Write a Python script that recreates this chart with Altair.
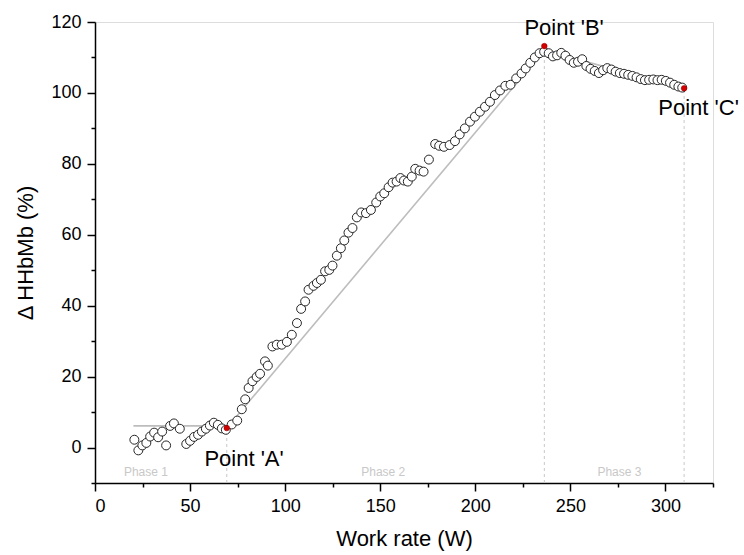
import altair as alt
import pandas as pd

FONT = "Liberation Sans"

w_phase1 = [20.7, 22.8, 24.9, 27.0, 29.0, 31.1, 33.2, 35.3, 37.4, 39.5, 41.5, 44.6,
            48.0, 50.0, 52.1, 54.2, 56.2, 58.3, 60.4, 62.5, 64.6, 66.7, 68.8]
y_phase1 = [2.2, -0.8, 0.6, 1.3, 3.1, 4.2, 2.9, 4.5, 0.6, 6.1, 6.8, 5.3,
            1.0, 1.9, 3.0, 3.6, 4.5, 5.3, 6.2, 7.0, 6.4, 5.4, 5.0]

w_phase2 = [71.9, 74.8, 77.2, 79.0, 80.8, 82.8, 85.0, 86.8, 89.4, 90.9, 93.3, 95.6,
            98.2, 100.9, 103.5, 106.2, 108.4, 110.5, 112.3, 114.9, 116.7, 118.8, 121.0,
            123.2, 124.9, 127.2, 129.3, 131.1, 133.3, 135.4, 137.7, 140.0, 142.5, 145.1,
            147.9, 150.0, 152.1, 154.4, 156.5, 158.6, 160.6, 162.5, 164.5, 166.6, 168.4,
            170.7, 172.8, 175.6, 178.9, 181.0, 183.5, 186.5, 189.3, 191.8, 194.5, 197.2,
            199.8, 202.4, 205.1, 207.7, 210.3, 213.0, 215.8, 218.5, 221.5, 224.3, 226.5,
            228.9, 231.3, 233.8, 236.2]
y_phase2 = [6.5, 7.6, 10.8, 13.6, 16.8, 18.7, 19.9, 20.8, 24.3, 23.1, 28.5, 29.0,
            29.0, 29.8, 31.8, 35.1, 39.1, 41.2, 44.5, 45.6, 46.4, 47.3, 49.7,
            50.1, 51.3, 54.1, 56.2, 58.4, 60.6, 61.9, 64.9, 66.3, 66.1, 67.0,
            69.1, 70.8, 71.7, 73.4, 74.7, 75.0, 76.0, 75.3, 75.0, 76.4, 78.6,
            78.1, 77.8, 81.2, 85.6, 85.1, 84.8, 85.3, 86.4, 88.3, 90.0, 91.9,
            93.3, 94.7, 96.1, 97.5, 99.4, 100.7, 102.0, 102.3, 104.1, 105.5, 106.9,
            108.5, 110.0, 111.2, 111.6]

w_phase3 = [238.6, 240.8, 243.0, 245.2, 247.4, 249.6, 251.8, 254.0, 256.2, 258.4, 260.6,
            262.8, 265.0, 267.2, 269.4, 271.6, 273.8, 276.0, 278.2, 280.4, 282.6, 284.8,
            287.0, 289.2, 291.4, 293.6, 295.8, 298.0, 300.2, 302.4, 304.6, 306.8, 308.8]
y_phase3 = [111.2, 110.3, 110.6, 111.3, 110.5, 109.3, 108.5, 108.8, 109.5, 107.6, 106.8,
            106.2, 105.6, 106.4, 107.0, 106.6, 106.0, 105.6, 105.4, 105.1, 104.8, 104.4,
            103.9, 103.6, 103.7, 103.8, 103.6, 103.7, 103.4, 102.9, 102.3, 101.8, 101.5]

# breakpoints
key_w = [69.3, 236.3, 309.8]
key_y = [5.5, 113.2, 101.3]
key_text = ["Point 'A'", "Point 'B'", "Point 'C'"]
key_text_w = [78.4, 246.7, 317.4]
key_text_y = [-5.3, 116.3, 93.8]

# fitted regression segments
fit_w1 = [20.2, 69.3, 236.3]
fit_y1 = [6.1, 5.5, 112.0]
fit_w2 = [69.3, 236.3, 309.8]
fit_y2 = [6.1, 112.0, 101.3]

phase_names = ["Phase 1", "Phase 2", "Phase 3"]
phase_w = [26.8, 151.6, 275.8]
phase_y = [-7.9, -7.9, -7.9]

x_major = [0, 50, 100, 150, 200, 250, 300]
x_minor = [25, 75, 125, 175, 225, 275, 325]
y_major = [0, 20, 40, 60, 80, 100, 120]
y_minor = [-10, 10, 30, 50, 70, 90, 110]

# ---- tables ----
pts = pd.DataFrame({"w": w_phase1 + w_phase2 + w_phase3,
                    "y": y_phase1 + y_phase2 + y_phase3})
keys = pd.DataFrame({"w": key_w, "y": key_y, "base": [-10] * 3,
                     "label": key_text, "lw": key_text_w, "ly": key_text_y})
fits = pd.DataFrame({"w1": fit_w1, "y1": fit_y1, "w2": fit_w2, "y2": fit_y2})
phases = pd.DataFrame({"name": phase_names, "w": phase_w, "y": phase_y})

xs = alt.Scale(domain=[0, 325], nice=False, zero=False)
ys = alt.Scale(domain=[-10, 120], nice=False, zero=False)

major_x = alt.Axis(orient="bottom", values=x_major, tickSize=8, tickWidth=1.5,
                   domainWidth=1.5, domainColor="black", tickColor="black",
                   labelFontSize=18, labelPadding=6, labelColor="black",
                   titleFontSize=22, titleFontWeight="normal", titlePadding=13,
                   titleColor="black", grid=False, labelFont=FONT, titleFont=FONT)
major_y = alt.Axis(orient="left", values=y_major, tickSize=8, tickWidth=1.5,
                   domainWidth=1.5, domainColor="black", tickColor="black",
                   labelFontSize=18, labelPadding=6, labelColor="black",
                   titleFontSize=22, titleFontWeight="normal", titlePadding=13,
                   titleColor="black", grid=False, labelFont=FONT, titleFont=FONT)
minor_x = alt.Axis(orient="bottom", values=x_minor, tickSize=4, tickWidth=1.5,
                   tickColor="black", domain=False, labels=False, grid=False, title=None)
minor_y = alt.Axis(orient="left", values=y_minor, tickSize=4, tickWidth=1.5,
                   tickColor="black", domain=False, labels=False, grid=False, title=None)

fit_layer = alt.Chart(fits).mark_rule(color="#bdbdbd", strokeWidth=1.6).encode(
    x=alt.X("w1:Q", scale=xs, axis=minor_x),
    y=alt.Y("y1:Q", scale=ys, axis=minor_y),
    x2="w2:Q", y2="y2:Q")

dash_layer = alt.Chart(keys).mark_rule(color="#c8c8c8", strokeWidth=1,
                                        strokeDash=[3, 3]).encode(
    x=alt.X("w:Q", scale=xs, axis=None),
    y=alt.Y("base:Q", scale=ys, axis=None),
    y2="y:Q")

point_layer = alt.Chart(pts).mark_point(shape="circle", filled=False, fill="white",
                                         fillOpacity=1, stroke="#262626",
                                         strokeWidth=1, size=80, opacity=1).encode(
    x=alt.X("w:Q", scale=xs, axis=major_x, title="Work rate (W)"),
    y=alt.Y("y:Q", scale=ys, axis=major_y, title="\u0394 HHbMb (%)"))

red_layer = alt.Chart(keys).mark_point(shape="circle", filled=True, color="#d40000",
                                        stroke="#8a0000", strokeWidth=0.5,
                                        size=32, opacity=1).encode(
    x=alt.X("w:Q", scale=xs, axis=None),
    y=alt.Y("y:Q", scale=ys, axis=None))

label_layer = alt.Chart(keys).mark_text(font=FONT, fontSize=22, color="black",
                                         align="center", baseline="alphabetic").encode(
    x=alt.X("lw:Q", scale=xs, axis=None),
    y=alt.Y("ly:Q", scale=ys, axis=None),
    text="label:N")

phase_layer = alt.Chart(phases).mark_text(font=FONT, fontSize=12, color="#c8c8c8",
                                           align="center", baseline="alphabetic").encode(
    x=alt.X("w:Q", scale=xs, axis=None),
    y=alt.Y("y:Q", scale=ys, axis=None),
    text="name:N")

chart = alt.layer(fit_layer, dash_layer, point_layer, red_layer, label_layer,
                  phase_layer).resolve_axis(x="independent", y="independent").properties(
    width=618, height=461,
    autosize=alt.AutoSizeParams(type="none"),
    padding={"left": 95, "top": 22, "right": 31, "bottom": 72},
    background="white",
).configure_view(strokeWidth=0).configure(font=FONT)

chart.save("out.html", embed_options={"renderer": "svg", "actions": False})
